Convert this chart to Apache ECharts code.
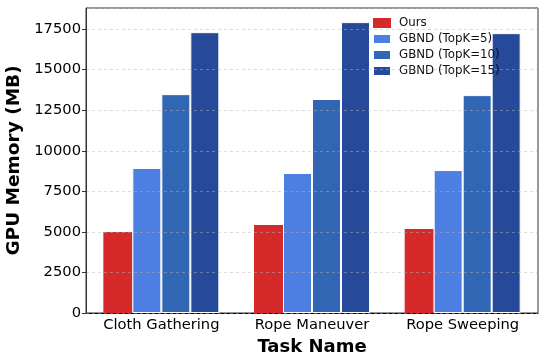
<!DOCTYPE html>
<html><head><meta charset="utf-8">
<script src="https://cdn.jsdelivr.net/npm/echarts@6/dist/echarts.min.js"></script>
<style>html,body{margin:0;padding:0;background:#fff}#c{width:544px;height:356px}</style>
</head><body><div id="c"></div>
<script>
const categories = ['Cloth Gathering', 'Rope Maneuver', 'Rope Sweeping'];
const seriesNames = ['Ours', 'GBND (TopK=5)', 'GBND (TopK=10)', 'GBND (TopK=15)'];
const ours = [4990, 5420, 5180];
const gbnd5 = [8940, 8630, 8810];
const gbnd10 = [13490, 13190, 13430];
const gbnd15 = [17310, 17930, 17250];
const colors = ['#d62a2a', '#4c7fe1', '#3166b5', '#27499a'];
const values = [ours, gbnd5, gbnd10, gbnd15];
const F = 'DejaVu Sans';
const chart = echarts.init(document.getElementById('c'));
chart.setOption({
  animation: false,
  textStyle: { fontFamily: F },
  grid: { left: 86, right: 6, top: 8, bottom: 43, show: true, borderColor: '#333', borderWidth: 1, outerBoundsMode: 'none', containLabel: false },
  legend: {
    data: seriesNames, orient: 'vertical', left: 372, top: 17, padding: 0,
    itemWidth: 18, itemHeight: 10, itemGap: 4,
    textStyle: { fontFamily: F, fontSize: 11.8, color: '#111', padding: [0, 0, 0, 3] },
    icon: 'rect'
  },
  xAxis: {
    type: 'category', data: categories,
    name: 'Task Name', nameLocation: 'middle', nameGap: 24,
    nameTextStyle: { fontFamily: F, fontSize: 18, fontWeight: 'bold', color: '#000' },
    axisLine: { lineStyle: { color: '#000', width: 1 } },
    axisTick: { show: false },
    axisLabel: { fontFamily: F, fontSize: 14.7, color: '#000', margin: 5, interval: 0 }
  },
  yAxis: {
    type: 'value', min: 0, max: 18800, interval: 2500, z: 5,
    name: 'GPU Memory (MB)', nameLocation: 'middle', nameGap: 53,
    nameTextStyle: { fontFamily: F, fontSize: 18.5, fontWeight: 'bold', color: '#000' },
    axisLine: { show: true, lineStyle: { color: '#333', width: 1 } },
    axisTick: { show: true, length: 4, lineStyle: { color: '#333' } },
    axisLabel: { fontFamily: F, fontSize: 14.7, color: '#000', margin: 5, showMaxLabel: false, formatter: v => String(v) },
    splitLine: { show: true, lineStyle: { color: 'rgba(180,180,180,0.6)', type: [3, 3], width: 0.8 } }
  },
  series: seriesNames.map((n, i) => ({
    name: n, type: 'bar', data: values[i], z: 2,
    barWidth: 29, barGap: '0%',
    itemStyle: { color: colors[i], borderColor: i === 0 ? colors[i] : '#fff', borderWidth: i === 0 ? 0 : 1 }
  }))
});
</script></body></html>
